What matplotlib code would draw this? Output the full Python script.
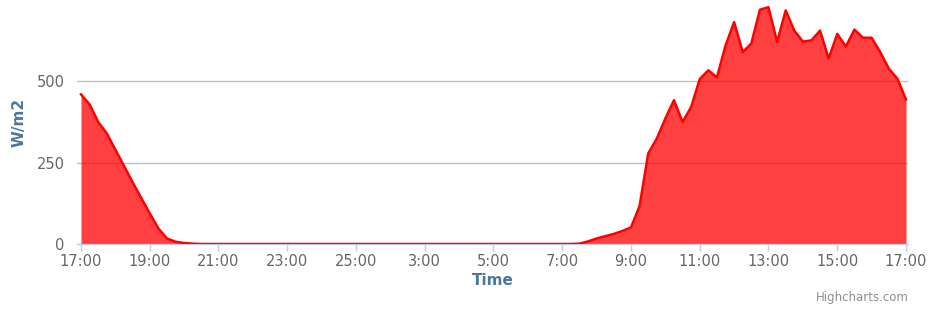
import numpy as np
import matplotlib
matplotlib.use("Agg")
import matplotlib.pyplot as plt

# irradiance readings every 15 min, 17:00 -> 17:00 next day
irradiance = [
    460, 429, 375, 340, 290, 240, 190, 142, 94, 48, 17, 7, 3, 1,
    0, 0, 0, 0, 0, 0, 0, 0, 0, 0, 0, 0, 0, 0, 0, 0, 0, 0, 0, 0, 0, 0,
    0, 0, 0, 0, 0, 0, 0, 0, 0, 0, 0, 0, 0, 0, 0, 0, 0, 0, 0, 0, 0, 0,
    1, 8, 17, 24, 31, 40, 51, 117, 278, 324, 386, 442, 375, 421,
    507, 534, 512, 610, 682, 590, 616, 720, 728, 621, 718, 656, 622, 626,
    656, 570, 646, 607, 659, 634, 634, 590, 539, 508, 444,
]
tick_hours = [0, 2, 4, 6, 8, 10, 12, 14, 16, 18, 20, 22, 24]
tick_labels = ["17:00", "19:00", "21:00", "23:00", "25:00", "3:00", "5:00",
               "7:00", "9:00", "11:00", "13:00", "15:00", "17:00"]
y_ticks = [0, 250, 500]

W, H = 929, 312
fig = plt.figure(figsize=(W / 100, H / 100), dpi=100)
ax = fig.add_axes([77 / W, 68 / H, 831 / W, 244 / H])

hours = np.arange(len(irradiance)) * 0.25
ax.fill_between(hours, irradiance, 0, color="#ff0000", alpha=0.75, linewidth=0, zorder=2)
ax.plot(hours, irradiance, color="#ff0000", linewidth=1.8, zorder=3)

ax.set_xlim(-4 / 34.375, 24 + 2 / 34.375)
ax.set_ylim(0, 750)

ax.set_yticks(y_ticks)
ax.set_yticklabels([str(v) for v in y_ticks])
ax.set_xticks(tick_hours)
ax.set_xticklabels(tick_labels)

ax.grid(axis="y", color="#c0c0c0", linewidth=1, zorder=1)
ax.set_axisbelow(True)
for s in ["top", "right", "left"]:
    ax.spines[s].set_visible(False)
ax.spines["bottom"].set_color("#c0d0e0")
ax.spines["bottom"].set_linewidth(1)

ax.tick_params(axis="x", colors="#666666", labelsize=10.5, length=5,
               width=1, color="#c0d0e0", pad=2)
ax.tick_params(axis="y", colors="#666666", labelsize=10.5, length=0, pad=9)

ax.set_xlabel("Time", color="#4d759e", fontsize=11, fontweight="bold", labelpad=3)
ax.set_ylabel("W/m2", color="#4d759e", fontsize=11, fontweight="bold", labelpad=7)

fig.text(909 / W, 1 - 297 / H, "Highcharts.com", color="#909090", fontsize=8.5,
         ha="right", va="center")

fig.savefig("out.png", dpi=100)
